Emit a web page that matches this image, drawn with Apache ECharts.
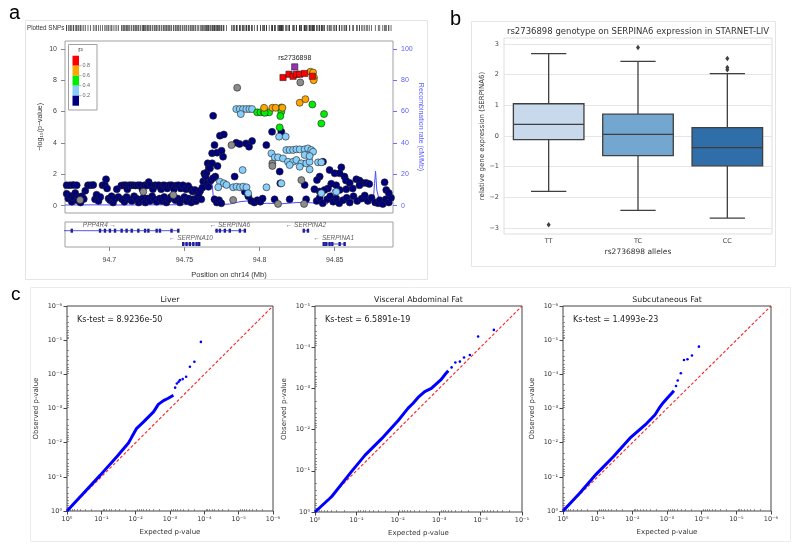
<!DOCTYPE html>
<html><head><meta charset="utf-8">
<script src="https://cdn.jsdelivr.net/npm/echarts@6/dist/echarts.min.js"></script>
<style>html,body{margin:0;padding:0;background:#fff}#c{width:800px;height:552px}</style>
</head><body><div id="c"></div>
<script>
// ================= Panel a : regional association =================
const snpNavy = [
[94.6716,1.30],[94.6738,1.30],[94.6760,1.32],[94.6783,1.30],
[94.6716,0.75],[94.6727,0.45],[94.6740,0.62],[94.6750,0.25],[94.6762,0.50],[94.6773,0.80],[94.6785,0.35],[94.6795,0.55],[94.6808,0.20],[94.6818,0.60],[94.6830,0.42],[94.6840,0.95],
[94.6858,1.30],[94.6875,1.30],[94.6893,1.32],[94.6905,0.40],[94.6915,0.70],[94.6928,0.30],[94.6940,0.55],
[94.6955,1.30],[94.6970,1.32],[94.6978,1.68],[94.6985,1.10],[94.6995,0.45],[94.7005,0.35],[94.7015,0.60],[94.7025,0.20],[94.7038,0.45],[94.7050,1.05],[94.7060,0.55],
[94.7080,1.28],[94.7095,1.30],[94.7110,1.30],[94.7120,1.05],[94.7132,1.30],[94.7145,1.30],[94.7160,1.30],[94.7175,1.28],[94.7190,1.30],
[94.7085,0.40],[94.7100,0.25],[94.7115,0.55],[94.7130,0.40],[94.7150,0.30],[94.7165,0.60],[94.7180,0.45],[94.7195,0.20],
[94.7205,1.30],[94.7220,1.05],[94.7235,1.30],[94.7250,1.28],[94.7262,1.50],[94.7275,1.30],[94.7290,1.05],[94.7305,1.30],[94.7318,1.28],
[94.7210,0.40],[94.7228,0.50],[94.7240,0.20],[94.7255,0.45],[94.7270,0.30],[94.7285,0.60],[94.7300,0.40],[94.7315,0.25],
[94.7330,1.30],[94.7345,1.05],[94.7360,1.30],[94.7372,1.28],[94.7385,1.10],[94.7400,1.30],[94.7415,1.30],[94.7430,1.05],[94.7445,1.28],[94.7460,1.30],[94.7475,1.10],[94.7490,1.30],[94.7510,1.05],[94.7525,1.25],
[94.7335,0.45],[94.7350,0.30],[94.7365,0.55],[94.7380,0.20],[94.7395,0.40],[94.7410,0.55],[94.7440,0.35],[94.7455,0.45],[94.7470,0.20],[94.7485,0.40],[94.7500,0.55],[94.7515,0.30],[94.7530,0.45],[94.7545,0.20],[94.7560,0.40],[94.7575,0.30],
[94.7540,1.05],[94.7555,0.90],[94.7570,1.00],[94.7585,0.50],[94.7595,0.75],[94.7605,0.95],[94.7612,0.40],[94.7620,1.15],
[94.7625,1.55],[94.7632,2.05],[94.7640,1.85],[94.7647,2.10],[94.7655,2.70],[94.7662,2.40],[94.7670,2.38],[94.7684,2.70],[94.7684,3.34],[94.7691,5.73],[94.7700,3.86],[94.7705,1.85],[94.7717,3.38],[94.7720,2.53],[94.7736,4.46],[94.7747,3.50],[94.7757,3.12],[94.7762,4.54],
[94.7650,1.40],[94.7660,1.20],[94.7675,1.60],[94.7690,1.75],[94.7700,0.40],[94.7715,0.20],[94.7730,0.35],[94.7745,0.15],
[94.7834,1.85],[94.7845,4.01],[94.7867,3.93],[94.7910,3.97],[94.7930,3.76],[94.7950,4.12],[94.7902,0.89],[94.7925,0.60],[94.7945,0.30],[94.7965,0.20],[94.7985,0.35],[94.8005,0.25],[94.8020,0.45],
[94.8045,3.86],[94.8083,4.71],[94.8145,4.71],[94.8134,2.17],[94.8138,1.42],[94.8300,1.32],[94.8422,2.80],[94.8466,2.27],[94.8400,1.85],[94.8382,1.63],[94.8544,2.44],[94.8500,2.06],[94.8533,2.06],[94.8565,1.85],[94.8575,1.60],[94.8600,1.45],[94.8644,1.68],[94.8665,1.60],[94.8688,1.45],[94.8710,1.45],[94.8730,1.38],[94.8665,1.30],[94.8620,1.10],[94.8577,1.05],[94.8533,1.00],[94.8510,1.30],[94.8477,1.40],[94.8455,1.10],[94.8432,1.00],[94.8400,0.90],[94.8365,1.05],[94.8832,1.49],[94.8843,1.00],
[94.8100,0.40],[94.8200,0.40],[94.8310,0.40],[94.8380,0.30],[94.8400,0.50],[94.8420,0.15],[94.8450,0.40],[94.8470,0.60],[94.8490,0.25],[94.8510,0.45],[94.8530,0.15],[94.8555,0.35],[94.8580,0.50],[94.8600,0.20],[94.8625,0.60],[94.8650,0.30],[94.8680,0.45],[94.8700,0.65],[94.8720,0.30],[94.8745,0.50],[94.8770,0.20],[94.8790,0.15],[94.8800,0.35],[94.8820,0.10],[94.8840,0.40],[94.8860,0.20],[94.8875,0.50],[94.8860,0.80]
];
const snpLightBlue = [
[94.7845,6.16],[94.7868,6.16],[94.7890,6.16],[94.7912,6.16],[94.7932,6.16],[94.7950,6.16],[94.7875,5.84],
[94.8130,4.40],[94.8174,4.40],
[94.8079,3.33],[94.8101,3.08],[94.8123,3.08],[94.8156,3.01],[94.8178,3.55],[94.8200,3.55],[94.8223,3.55],[94.8245,3.59],[94.8267,3.59],[94.8300,3.59],[94.8322,3.65],[94.8344,3.55],[94.8356,3.44],
[94.8189,2.80],[94.8223,2.80],[94.8245,2.91],[94.8278,2.70],[94.8311,2.70],[94.8333,2.80],[94.8300,3.23],[94.8333,3.16],[94.8267,2.48],[94.8333,2.31],[94.8389,2.76],[94.8411,2.76],[94.8200,2.59],
[94.8145,1.42],[94.8411,0.79],[94.8511,0.89],
[94.8046,1.17],[94.7887,2.27],[94.7736,1.53],[94.7762,1.42],[94.7780,1.32],[94.7725,1.17],[94.7824,1.17],[94.7847,1.21],[94.7869,1.17],[94.7891,1.21],[94.7913,1.17],[94.7924,0.79]
];
const snpGreen = [
[94.7984,5.95],[94.8006,5.95],[94.8028,5.95],[94.8046,5.95],[94.8064,5.95],
[94.8034,5.92],[94.8145,6.26],[94.8145,5.99],[94.8138,5.71],[94.8351,6.45],[94.8429,5.84],[94.8411,5.24],[94.8134,4.99]
];
const snpOrange = [
[94.8030,6.24],[94.8085,6.24],[94.8107,6.24],[94.8152,6.24],[94.8267,6.56],[94.8305,6.79],
[94.8338,8.54],[94.8356,8.49],[94.8362,8.17],[94.8360,8.00]
];
const snpRed = [[94.8156,8.17],[94.8196,8.38],[94.8223,8.25],[94.8245,8.38],[94.8267,8.38],[94.8300,8.43],[94.8351,8.25]];
const snpGray = [[94.7813,3.86],[94.7851,7.52],[94.8271,7.86],[94.8085,2.70],[94.8085,2.53],[94.8278,1.63],[94.8123,0.11],[94.8296,0.11],[94.7824,0.36],[94.7426,0.68],[94.6805,0.36],[94.7226,0.89]];
const leadSnp = [[94.8234,8.85]];
const leadSnpName = 'rs2736898';
const recombRate = [[94.6705,0.4],[94.690,0.5],[94.710,0.4],[94.730,0.5],[94.750,0.6],[94.7595,1.0],[94.7605,11.5],[94.7625,13.5],[94.7685,13.5],[94.7695,2.0],[94.7710,0.6],[94.780,1.0],[94.787,2.5],[94.792,3.0],[94.796,1.0],[94.805,1.5],[94.815,1.2],[94.825,2.0],[94.835,1.8],[94.845,1.0],[94.8475,7],[94.849,10.5],[94.8505,6],[94.852,3.5],[94.860,3.0],[94.868,2.8],[94.8745,2.5],[94.8755,0.5],[94.8765,14],[94.8772,22],[94.878,10],[94.8795,4],[94.8888,4.5]];
const geneNames = ['PPP4R4','SERPINA6','SERPINA10','SERPINA2','SERPINA1'];
const geneStarts = [94.641,94.7703,94.7488,94.8289,94.8422];
const geneEnds = [94.7459,94.7902,94.7598,94.8329,94.8566];
const geneRows = [1,1,2,1,2];
const geneStrands = ['+','-','-','-','-'];
const geneExons = [
 [94.6750,94.6938,94.6971,94.7004,94.7038,94.7082,94.7115,94.7149,94.7193,94.7238,94.7260,94.7315,94.7337,94.7414,94.7459],
 [94.7714,94.7736,94.7769,94.7802,94.7869,94.7902],
 [94.7492,94.7514,94.7536,94.7559,94.7581,94.7598],
 [94.8294,94.8322],
 [94.8427,94.8444,94.8466,94.8484,94.8533,94.8566]
];
const posTicks = [94.7,94.75,94.8,94.85];
const logpTicks = [0,2,4,6,8,10];
const recombTicks = [0,20,40,60,80,100];
const r2Legend = ['0.8','0.6','0.4','0.2'];

// ================= Panel b : boxplot =================
const genotypes = ['TT','TC','CC'];
const boxStats = [[-1.80,-0.12,0.38,1.05,2.68],[-2.42,-0.64,0.05,0.71,2.43],[-2.67,-0.97,-0.38,0.27,2.03]];
const boxOutliers = [[0,-2.89],[1,2.88],[2,2.52],[2,2.23],[2,2.16]];
const exprTicks = [-3,-2,-1,0,1,2,3];
const boxTitle = 'rs2736898 genotype on SERPINA6 expression in STARNET-LIV';

// ================= Panel c : QQ plots (-log10 units) =================
const qqTitles = ['Liver','Visceral Abdominal Fat','Subcutaneous Fat'];
const qqKs = ['Ks-test = 8.9236e-50','Ks-test = 6.5891e-19','Ks-test = 1.4993e-23'];
const qqMax = [6,5,6];
const liverDense = [[0,0],[0.48,0.52],[0.97,1.05],[1.45,1.59],[1.79,1.99],[1.89,2.17],[2.03,2.42],[2.23,2.61],[2.52,2.90],[2.66,3.12],[2.81,3.23],[2.95,3.30],[3.10,3.39]];
const liverTail = [[3.15,3.61],[3.20,3.73],[3.25,3.78],[3.29,3.83],[3.37,3.86],[3.47,3.93],[3.58,4.22],[3.71,4.37],[3.90,4.95]];
const visceralDense = [[0,0],[0.40,0.37],[0.88,0.98],[1.21,1.38],[1.61,1.78],[2.01,2.22],[2.25,2.52],[2.37,2.64],[2.49,2.78],[2.65,2.92],[2.81,3.00],[2.93,3.11],[3.05,3.22],[3.15,3.35],[3.22,3.43]];
const visceralTail = [[3.30,3.51],[3.39,3.63],[3.50,3.65],[3.60,3.75],[3.74,3.81],[3.94,4.26],[4.32,4.42]];
const subcutDense = [[0,0],[0.48,0.52],[0.96,1.08],[1.45,1.59],[1.93,2.13],[2.41,2.56],[2.65,2.81],[2.80,3.05],[2.89,3.17],[2.94,3.20],[3.03,3.33],[3.13,3.44],[3.20,3.52]];
const subcutTail = [[3.26,3.66],[3.31,3.82],[3.40,4.03],[3.49,4.42],[3.59,4.44],[3.72,4.55],[3.92,4.81]];

// ================= build =================
const fontA = 'Liberation Sans, Arial, sans-serif';
const fontM = 'DejaVu Sans, sans-serif';
const posMin = 94.6705, posMax = 94.8888;
const r2Colors = ['#ff0000','#ffa500','#00ee00','#87cefa','#00007f'];
const boxColors = ['#c8d9ec','#73a7cf','#2f6ea9'];
const chart = echarts.init(document.getElementById('c'), null, {renderer:'canvas'});

const sup = {'0':'⁰','1':'¹','2':'²','3':'³','4':'⁴','5':'⁵','6':'⁶','-':'⁻'};
const decade = v => '10' + (v === 0 ? '0' : '-' + v).split('').map(c => sup[c]).join('');
const minorTicks = max => { const t = []; for (let n = 0; n < max; n++) for (let k = 2; k <= 9; k++) t.push(n + 1 - Math.log10(k)); return t; };

const allSnpX = [].concat(snpNavy, snpLightBlue, snpGreen, snpOrange, snpRed, snpGray, leadSnp).map(p => [p[0], 0.5]);

const grids = [
  {left:65, top:25, width:328, height:6},
  {left:65, top:41, width:328, height:172, show:true, borderColor:'#a0a0a0', borderWidth:1},
  {left:65, top:222, width:328, height:25, show:true, borderColor:'#a0a0a0', borderWidth:1},
  {left:504, top:38, width:268, height:196, show:true, borderColor:'#dedede', borderWidth:1},
  {left:67, top:306, width:206, height:205, show:true, borderColor:'#444', borderWidth:1},
  {left:315, top:306, width:207, height:206, show:true, borderColor:'#444', borderWidth:1},
  {left:563, top:306, width:208, height:205, show:true, borderColor:'#444', borderWidth:1}
];

const qqX = (g, max) => ({gridIndex:g, type:'value', min:0, max:max, interval:1,
  axisLine:{show:false}, axisTick:{length:3.5, lineStyle:{color:'#444'}},
  axisLabel:{formatter:decade, fontSize:6.5, color:'#333', margin:5, fontFamily:fontM}, splitLine:{show:false},
  name:'Expected p-value', nameLocation:'middle', nameGap:18, nameTextStyle:{fontSize:7, color:'#333', fontFamily:fontM}});
const qqY = (g, max) => ({gridIndex:g, type:'value', min:0, max:max, interval:1,
  axisLine:{show:false}, axisTick:{length:3.5, lineStyle:{color:'#444'}},
  axisLabel:{formatter:decade, fontSize:6.5, color:'#333', margin:5, fontFamily:fontM}, splitLine:{show:false},
  name:'Observed p-value', nameLocation:'middle', nameGap:27, nameTextStyle:{fontSize:7, color:'#333', fontFamily:fontM}});
const qqMinorX = (g, max) => ({gridIndex:g, type:'value', min:0, max:max, axisLine:{show:false}, axisLabel:{show:false},
  axisTick:{customValues:minorTicks(max), length:2, lineStyle:{color:'#555', width:0.6}}, splitLine:{show:false}});
const qqMinorY = (g, max) => ({gridIndex:g, type:'value', min:0, max:max, axisLine:{show:false}, axisLabel:{show:false},
  axisTick:{customValues:minorTicks(max), length:2, lineStyle:{color:'#555', width:0.6}}, splitLine:{show:false}});

const xAxes = [
  {gridIndex:0, type:'value', min:posMin, max:posMax, show:false},
  {gridIndex:1, type:'value', min:posMin, max:posMax, axisLine:{show:false}, axisTick:{show:false}, axisLabel:{show:false}, splitLine:{show:false}},
  {gridIndex:2, type:'value', min:posMin, max:posMax, axisLine:{show:false},
   axisTick:{show:true, customValues:posTicks, length:4, lineStyle:{color:'#888'}},
   axisLabel:{customValues:posTicks, formatter:v => String(+v.toFixed(2)), fontSize:7, color:'#444', margin:10, fontFamily:fontA},
   splitLine:{show:false}, name:'Position on chr14 (Mb)', nameLocation:'middle', nameGap:24,
   nameTextStyle:{fontSize:7.5, color:'#333', fontFamily:fontA}},
  {gridIndex:3, type:'category', data:genotypes, axisLine:{show:false}, axisTick:{show:false},
   axisLabel:{fontSize:6.5, color:'#444', margin:4, fontFamily:fontM}, name:'rs2736898 alleles', nameLocation:'middle', nameGap:14,
   nameTextStyle:{fontSize:7.5, color:'#333', fontFamily:fontM}},
  qqX(4, qqMax[0]), qqX(5, qqMax[1]), qqX(6, qqMax[2]),
  qqMinorX(4, qqMax[0]), qqMinorX(5, qqMax[1]), qqMinorX(6, qqMax[2])
];
const yAxes = [
  {gridIndex:0, type:'value', min:0, max:1, show:false},
  {gridIndex:1, type:'value', min:-0.47, max:10.5, axisLine:{show:false},
   axisTick:{show:true, customValues:logpTicks, length:4, lineStyle:{color:'#888'}},
   axisLabel:{customValues:logpTicks, formatter:v => String(v), fontSize:7, color:'#444', margin:8, fontFamily:fontA},
   splitLine:{show:false}, name:'−log₁₀(p−value)', nameLocation:'middle', nameGap:21,
   nameTextStyle:{fontSize:7, color:'#333', fontFamily:fontA}},
  {gridIndex:1, type:'value', position:'right', min:-4.7, max:105, axisLine:{show:false},
   axisTick:{show:true, customValues:recombTicks, length:4, lineStyle:{color:'#7070ff'}},
   axisLabel:{customValues:recombTicks, formatter:v => String(v), fontSize:7, color:'#5a5aff', margin:8, fontFamily:fontA},
   splitLine:{show:false}, name:'Recombination rate (cM/Mb)', nameLocation:'middle', nameGap:24, nameRotate:-90,
   nameTextStyle:{fontSize:7, color:'#5a5aff', fontFamily:fontA}},
  {gridIndex:2, type:'value', min:0.346, max:2.226, inverse:true, show:false},
  {gridIndex:3, type:'value', min:-3.19, max:3.19, axisLine:{show:false},
   axisTick:{show:false, customValues:exprTicks},
   axisLabel:{customValues:exprTicks, formatter:v => v < 0 ? '−' + (-v) : String(v), fontSize:6.5, color:'#444', margin:5, fontFamily:fontM},
   splitLine:{show:true, lineStyle:{color:'#e6e6e6', width:1}},
   name:'relative gene expression (SERPINA6)', nameLocation:'middle', nameGap:16,
   nameTextStyle:{fontSize:7, color:'#333', fontFamily:fontM}},
  qqY(4, qqMax[0]), qqY(5, qqMax[1]), qqY(6, qqMax[2]),
  qqMinorY(4, qqMax[0]), qqMinorY(5, qqMax[1]), qqMinorY(6, qqMax[2])
];

const snpScatter = (data, color, symbol, size, z) => ({type:'scatter', xAxisIndex:1, yAxisIndex:1, data:data, symbol:symbol, symbolSize:size,
  itemStyle:{color:color, borderColor:'#222', borderWidth:0.6, opacity:1}, z:z, silent:true});

const series = [
  {type:'scatter', xAxisIndex:0, yAxisIndex:0, data:allSnpX, symbol:'rect', symbolSize:[0.7,6], itemStyle:{color:'#333', opacity:1}, silent:true},
  {type:'line', xAxisIndex:1, yAxisIndex:2, data:recombRate, showSymbol:false, lineStyle:{color:'#4d4dff', width:1}, z:1, silent:true},
  snpScatter(snpNavy, r2Colors[4], 'circle', 7, 2),
  snpScatter(snpGray, '#8c8c8c', 'circle', 7, 3),
  snpScatter(snpLightBlue, r2Colors[3], 'circle', 7, 4),
  snpScatter(snpGreen, r2Colors[2], 'circle', 7, 5),
  snpScatter(snpOrange, r2Colors[1], 'circle', 7, 6),
  snpScatter(snpRed, r2Colors[0], 'rect', 6.2, 7),
  Object.assign(snpScatter(leadSnp, '#9632b8', 'rect', 6.2, 8), {label:{show:true, position:'top', distance:2, formatter:leadSnpName, fontSize:7, color:'#222', fontFamily:fontA}})
];
geneNames.forEach((n, i) => {
  series.push({type:'line', xAxisIndex:2, yAxisIndex:3, data:[[geneStarts[i], geneRows[i]],[geneEnds[i], geneRows[i]]],
    showSymbol:false, lineStyle:{color:'#2b2bd0', width:0.8}, silent:true});
});
series.push({type:'scatter', xAxisIndex:2, yAxisIndex:3, symbol:'rect', symbolSize:[2.4,4], itemStyle:{color:'#1a1a8c', opacity:1}, silent:true,
  data:[].concat(...geneExons.map((ex, i) => ex.map(x => [x, geneRows[i]])))});
series.push({type:'scatter', xAxisIndex:2, yAxisIndex:3, symbolSize:1, itemStyle:{color:'transparent'}, silent:true,
  data:geneNames.map((n, i) => ({value:[(geneStarts[i] + geneEnds[i]) / 2, geneRows[i]], name:n, strand:geneStrands[i]})),
  label:{show:true, position:'top', distance:1.5, fontSize:6.5, fontStyle:'italic', color:'#333', fontFamily:fontA,
    formatter:p => p.data.strand === '+' ? p.name + ' →' : '← ' + p.name}});

// boxplot (custom, seaborn style)
series.push({type:'custom', xAxisIndex:3, yAxisIndex:4, silent:true, data:boxStats.map((s, i) => [i].concat(s)),
  encode:{x:0, y:[1,2,3,4,5]},
  renderItem:(params, api) => {
    const i = api.value(0);
    const lo = api.coord([i, api.value(1)]), q1 = api.coord([i, api.value(2)]), md = api.coord([i, api.value(3)]),
          q3 = api.coord([i, api.value(4)]), hi = api.coord([i, api.value(5)]);
    const bw = api.size([1, 0])[0] * 0.79, cx = lo[0];
    const st = {stroke:'#3f3f3f', lineWidth:1.3};
    return {type:'group', children:[
      {type:'line', shape:{x1:cx, y1:lo[1], x2:cx, y2:q1[1]}, style:st},
      {type:'line', shape:{x1:cx, y1:q3[1], x2:cx, y2:hi[1]}, style:st},
      {type:'line', shape:{x1:cx - bw / 4, y1:lo[1], x2:cx + bw / 4, y2:lo[1]}, style:st},
      {type:'line', shape:{x1:cx - bw / 4, y1:hi[1], x2:cx + bw / 4, y2:hi[1]}, style:st},
      {type:'rect', shape:{x:cx - bw / 2, y:q3[1], width:bw, height:q1[1] - q3[1]}, style:{fill:boxColors[params.dataIndex], stroke:'#3f3f3f', lineWidth:1.3}},
      {type:'line', shape:{x1:cx - bw / 2, y1:md[1], x2:cx + bw / 2, y2:md[1]}, style:st}
    ]};
  }});
series.push({type:'scatter', xAxisIndex:3, yAxisIndex:4, data:boxOutliers, symbol:'diamond', symbolSize:[4,5.5], itemStyle:{color:'#3f3f3f', opacity:1}, silent:true});

// QQ plots
[[liverDense, liverTail],[visceralDense, visceralTail],[subcutDense, subcutTail]].forEach((d, k) => {
  series.push({type:'line', xAxisIndex:4 + k, yAxisIndex:5 + k, data:[[0,0],[qqMax[k], qqMax[k]]], showSymbol:false,
    lineStyle:{color:'#ff2020', width:1.1, type:[3,2]}, z:2, silent:true});
  series.push({type:'line', xAxisIndex:4 + k, yAxisIndex:5 + k, data:d[0], showSymbol:false,
    lineStyle:{color:'#0000ff', width:3}, z:3, silent:true});
  series.push({type:'scatter', xAxisIndex:4 + k, yAxisIndex:5 + k, data:d[1], symbolSize:2.6,
    itemStyle:{color:'#0000ff', opacity:1}, z:3, silent:true});
});

// graphics: frames, panel letters, legend, titles
const txt = (text, x, y, size, opts, z) => ({type:'text', silent:true, z:(z || 10), style:Object.assign({text:text, x:x, y:y, fontSize:size, fontFamily:fontM, fill:'#222', textAlign:'left', textVerticalAlign:'middle'}, opts || {})});
const graphic = [
  {type:'rect', silent:true, z:-10, shape:{x:25.5, y:20.5, width:402, height:259}, style:{fill:'none', stroke:'#e4e4e4', lineWidth:1}},
  {type:'rect', silent:true, z:-10, shape:{x:471.5, y:21.5, width:304, height:245}, style:{fill:'none', stroke:'#e4e4e4', lineWidth:1}},
  {type:'rect', silent:true, z:-10, shape:{x:30.5, y:287.5, width:760, height:254}, style:{fill:'none', stroke:'#ececec', lineWidth:1}},
  txt('a', 9, 13.5, 20, {fontFamily:fontA, fill:'#000'}),
  txt('b', 450, 19, 20, {fontFamily:fontA, fill:'#000'}),
  txt('c', 11, 294.5, 19, {fontFamily:fontA, fill:'#000'}),
  txt('Plotted SNPs', 27, 28.5, 6.3, {fontFamily:fontA, fill:'#333'}),
  {type:'rect', silent:true, shape:{x:68.5, y:44.5, width:28.5, height:65.5}, style:{fill:'#fff', stroke:'#a0a0a0', lineWidth:1}, z:50},
  txt('r²', 80.5, 50, 7, {fontFamily:fontA, fill:'#333', textAlign:'center'}, 52),
  txt(boxTitle, 638, 32, 8.5, {textAlign:'center', fill:'#333'})
];
r2Colors.forEach((c, i) => graphic.push({type:'rect', silent:true, z:51, shape:{x:72.5, y:55.7 + i * 10, width:6.5, height:10}, style:{fill:c, stroke:'none'}}));
r2Legend.forEach((l, i) => {
  graphic.push({type:'line', silent:true, z:52, shape:{x1:79, y1:65.7 + i * 10, x2:81.5, y2:65.7 + i * 10}, style:{stroke:'#888', lineWidth:0.6}});
  graphic.push(txt(l, 82.5, 65.9 + i * 10, 5.5, {fontFamily:fontA, fill:'#666'}, 52));
});
const qqCenters = [170, 418.5, 667];
const qqLefts = [77, 325, 573];
qqTitles.forEach((t, k) => {
  graphic.push(txt(t, qqCenters[k], 299.5, 7.8, {textAlign:'center', fill:'#222'}));
  graphic.push(txt(qqKs[k], qqLefts[k], 320, 8, {fill:'#222'}));
});

chart.setOption({
  animation:false,
  backgroundColor:'#fff',
  textStyle:{fontFamily:fontM},
  grid:grids, xAxis:xAxes, yAxis:yAxes, series:series, graphic:graphic
});
</script></body></html>
